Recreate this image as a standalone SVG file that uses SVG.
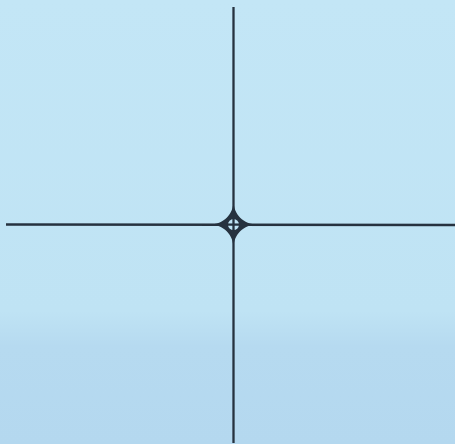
<svg xmlns="http://www.w3.org/2000/svg" width="455" height="444" viewBox="0 0 455 444">
  <defs>
    <linearGradient id="bg" x1="0" y1="0" x2="0" y2="1">
      <stop offset="0" stop-color="#c3e6f6"/>
      <stop offset="0.7" stop-color="#bfe3f4"/>
      <stop offset="0.78" stop-color="#b6daf0"/>
      <stop offset="1" stop-color="#b4d8ef"/>
    </linearGradient>
  </defs>
  <style>
    .ln { stroke: #26323f; stroke-width: 2.3; fill: none; stroke-linecap: butt; }
    .body { fill: #26323f; }
    .hole { fill: #bfe3f4; }
  </style>
  <rect x="0" y="0" width="455" height="444" fill="url(#bg)"/>
  <g id="connectors">
    <line class="ln" x1="233.5" y1="7" x2="233.5" y2="443"/>
    <line class="ln" x1="6" y1="224.5" x2="455" y2="225"/>
  </g>
  <g id="junction" transform="translate(233.5 224.6)">
    <path class="body" d="M24 0 C10 0 0 10 0 24 C0 10 -10 0 -24 0 C-10 0 0 -10 0 -24 C0 -10 10 0 24 0 Z"/>
    <path class="body" d="M16 0 C8 0 0 8 0 16 C0 8 -8 0 -16 0 C-8 0 0 -8 0 -16 C0 -8 8 0 16 0 Z" transform="scale(1.05)"/>
    <circle class="hole" cx="0" cy="0" r="5.5"/>
    <line class="ln" x1="0" y1="-6" x2="0" y2="6" stroke-width="2.4"/>
    <line class="ln" x1="-6" y1="0" x2="6" y2="0" stroke-width="2.4"/>
  </g>
</svg>
